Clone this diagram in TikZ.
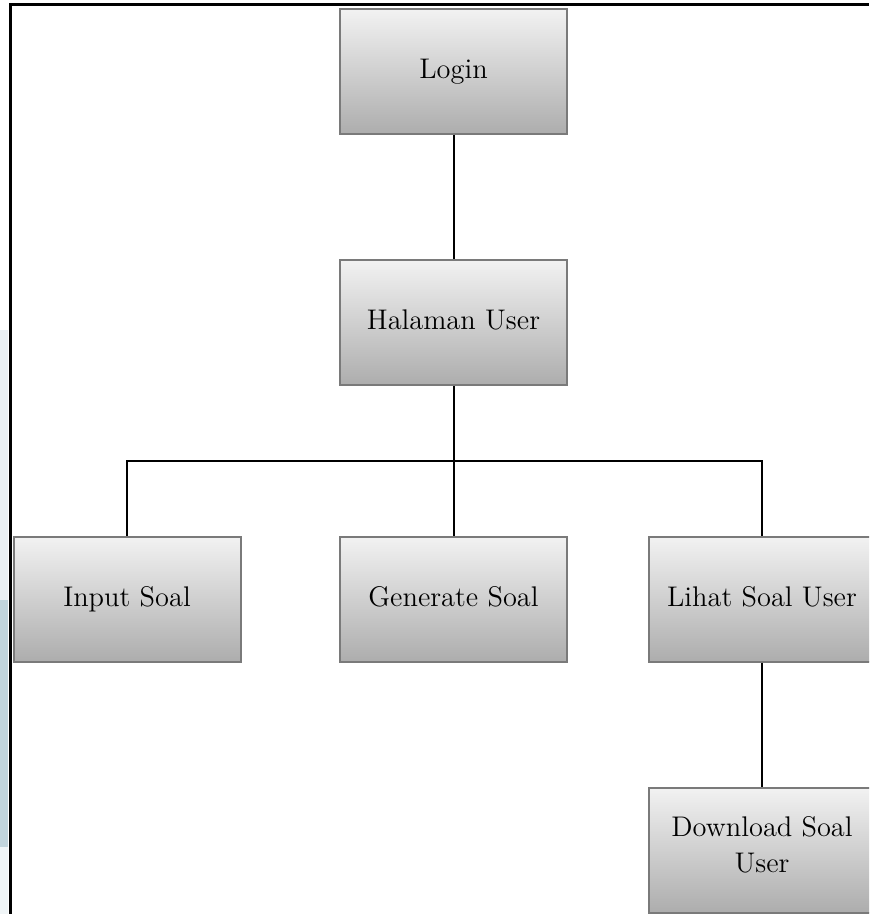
\documentclass[tikz,border=0pt]{standalone}
\definecolor{boxtop}{HTML}{F2F2F2}
\definecolor{boxbot}{HTML}{ADADAD}
\definecolor{boxline}{HTML}{7A7A7A}
\definecolor{sidebar}{HTML}{C2D5DD}
\begin{document}
\begin{tikzpicture}[x=.5pt,y=-.5pt,
	menu/.style={draw=boxline,line width=1pt,top color=boxtop,bottom color=boxbot,
		minimum width=113.5pt,minimum height=62.5pt,align=center,
		font=\fontsize{14.2}{18}\selectfont,inner sep=2pt,
		execute at begin node=\strut},
	link/.style={line width=1pt}]
\useasboundingbox (0,0) rectangle (869,914);
\clip (0,0) rectangle (869,914);
\fill[white] (0,0) rectangle (869,914);
\fill[sidebar!35] (0,330) rectangle (8,600);
\fill[sidebar] (0,600) rectangle (8,847);
\fill[sidebar!25] (0,847) rectangle (8,914);
\draw[line width=1.5pt] (10,914) |- (869,5);
\path
	(453.5,71.5) node [menu] (login) {Login}
	(453.5,322.5) node [menu] (halaman) {Halaman User}
	(127,599) node [menu] (input) {Input Soal}
	(453.5,599) node [menu] (generate) {Generate Soal}
	(762,599) node [menu] (lihat) {Lihat Soal User}
	(762,850) node [menu] (download) {Download Soal\\User};
\coordinate (bus) at (453.5,461);
\draw[link] (login) -- (halaman);
\draw[link] (halaman) -- (bus);
\draw[link] (input.north) |- (bus) -| (lihat.north);
\draw[link] (bus) -- (generate);
\draw[link] (lihat) -- (download);
\end{tikzpicture}
\end{document}
